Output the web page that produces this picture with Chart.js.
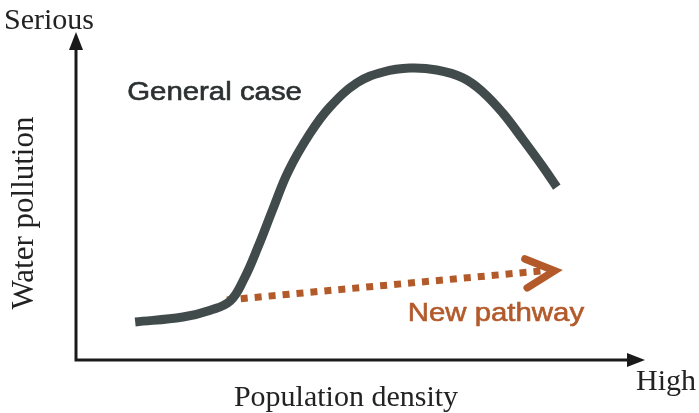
<!DOCTYPE html>
<html>
<head>
<meta charset="utf-8">
<script src="https://cdn.jsdelivr.net/npm/chart.js@4/dist/chart.umd.min.js"></script>
<style>
html,body{margin:0;padding:0;background:#fff;}
#wrap{width:699px;height:413px;position:relative;}
</style>
</head>
<body>
<div id="wrap"><canvas id="c" width="699" height="413"></canvas></div>
<script>
// Data (x: population density 0-100, y: water pollution 0-100)
const generalX = [10.4, 18.8, 23.6, 27.1, 29.5, 32.0, 34.6, 37.3, 41.1, 44.6, 49.4, 54.0, 58.7, 63.4, 68.0, 71.5, 75.0, 78.6, 82.1, 84.5];
const generalY = [11.6, 13.1, 15.2, 18.0, 24.6, 34.5, 46.0, 57.5, 69.0, 77.1, 84.5, 87.8, 89.0, 88.4, 86.0, 81.7, 75.3, 67.1, 58.8, 52.7];
const pathwayX = [26.5, 83.3];
const pathwayY = [18.3, 27.4];
const arrowHeadX = [78.9, 84.1, 79.3];
const arrowHeadY = [30.8, 27.2, 22.0];
const axisLabels = {y: "Water pollution", yTop: "Serious", x: "Population density", xEnd: "High"};
const seriesLabels = ["General case", "New pathway"];
const labelPos = {general: [9.0, 79.3], pathway: [58.3, 11.9]};

const zip = (xs, ys) => xs.map((x, i) => ({x: x, y: ys[i]}));

function stretchedText(ctx, txt, x, y, sx) {
  ctx.save();
  ctx.translate(x, y);
  ctx.scale(sx, 1);
  ctx.lineWidth = 0.6;
  ctx.strokeStyle = ctx.fillStyle;
  ctx.fillText(txt, 0, 0);
  ctx.strokeText(txt, 0, 0);
  ctx.restore();
}

const decor = {
  id: 'decor',
  afterDraw(chart) {
    const ctx = chart.ctx;
    const xs = chart.scales.x, ys = chart.scales.y;
    const l = xs.getPixelForValue(0), r = xs.getPixelForValue(100);
    const b = ys.getPixelForValue(0), t = ys.getPixelForValue(100);
    ctx.save();
    ctx.strokeStyle = '#1a1a1a';
    ctx.fillStyle = '#1a1a1a';
    ctx.lineWidth = 3;
    ctx.beginPath();
    ctx.moveTo(l, b + 1.5); ctx.lineTo(l, t + 14);
    ctx.moveTo(l - 1.5, b); ctx.lineTo(r - 14, b);
    ctx.stroke();
    ctx.beginPath();
    ctx.moveTo(l, t); ctx.lineTo(l - 7, t + 18); ctx.lineTo(l + 7, t + 18); ctx.closePath();
    ctx.fill();
    ctx.beginPath();
    ctx.moveTo(r, b); ctx.lineTo(r - 18, b - 7); ctx.lineTo(r - 18, b + 7); ctx.closePath();
    ctx.fill();

    ctx.font = '30px "Liberation Serif", "Times New Roman", serif';
    ctx.fillStyle = '#222';
    ctx.textBaseline = 'alphabetic';
    ctx.textAlign = 'left';
    ctx.fillText(axisLabels.yTop, 4, 29);
    ctx.fillText(axisLabels.xEnd, 636, 390);
    ctx.textAlign = 'center';
    ctx.fillText(axisLabels.x, 346, 406);
    ctx.save();
    ctx.translate(33, 213);
    ctx.rotate(-Math.PI / 2);
    ctx.font = '31px "Liberation Serif", "Times New Roman", serif';
    ctx.fillText(axisLabels.y, 0, 0);
    ctx.restore();

    ctx.textAlign = 'left';
    ctx.font = '26px "Liberation Sans", Arial, sans-serif';
    ctx.fillStyle = '#2b3030';
    stretchedText(ctx, seriesLabels[0], xs.getPixelForValue(labelPos.general[0]), ys.getPixelForValue(labelPos.general[1]), 1.13);
    ctx.fillStyle = '#b35a2b';
    stretchedText(ctx, seriesLabels[1], xs.getPixelForValue(labelPos.pathway[0]), ys.getPixelForValue(labelPos.pathway[1]), 1.13);
    ctx.restore();
  }
};

new Chart(document.getElementById('c'), {
  type: 'scatter',
  data: {
    datasets: [
      {
        label: seriesLabels[0],
        data: zip(generalX, generalY),
        showLine: true,
        borderColor: '#424b4b',
        borderWidth: 9,
        pointRadius: 0,
        tension: 0.4,
        borderCapStyle: 'butt',
        borderJoinStyle: 'round'
      },
      {
        label: seriesLabels[1],
        data: zip(pathwayX, pathwayY),
        showLine: true,
        borderColor: '#b35a2b',
        borderWidth: 7,
        borderDash: [7, 7],
        borderCapStyle: 'butt',
        pointRadius: 0
      },
      {
        label: 'arrow',
        data: zip(arrowHeadX, arrowHeadY),
        showLine: true,
        borderColor: '#b35a2b',
        borderWidth: 7.5,
        borderCapStyle: 'round',
        borderJoinStyle: 'miter',
        pointRadius: 0,
        tension: 0
      }
    ]
  },
  options: {
    responsive: false,
    animation: false,
    layout: {padding: {left: 76, right: 54, top: 32, bottom: 53}},
    plugins: {legend: {display: false}, tooltip: {enabled: false}},
    scales: {
      x: {type: 'linear', min: 0, max: 100, display: false},
      y: {type: 'linear', min: 0, max: 100, display: false}
    }
  },
  plugins: [decor]
});
</script>
</body>
</html>
